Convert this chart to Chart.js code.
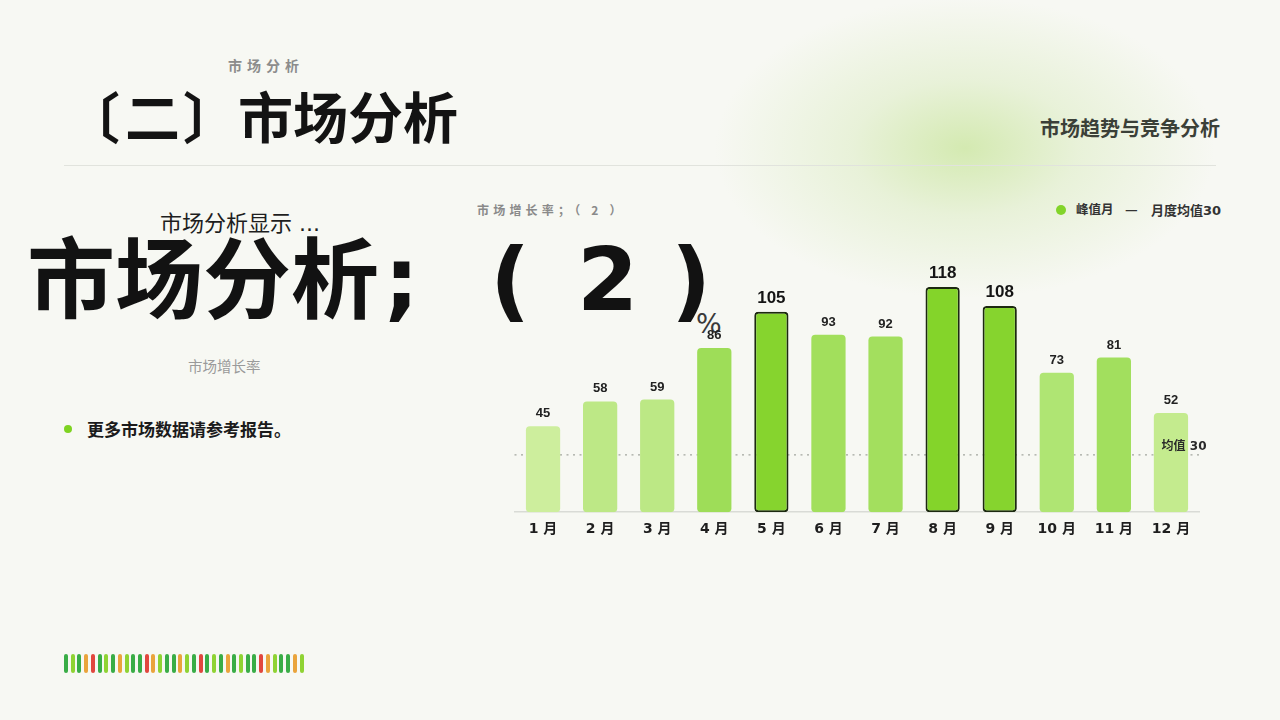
<!DOCTYPE html>
<html><head><meta charset="utf-8">
<script src="https://cdn.jsdelivr.net/npm/chart.js@4.4.0/dist/chart.umd.min.js"></script>
<style>
html,body{margin:0;padding:0;width:1280px;height:720px;overflow:hidden;background:#f7f8f3;font-family:"Noto Sans CJK SC","Noto Sans",sans-serif;}
#bg{position:absolute;left:0;top:0;width:1280px;height:720px;background:radial-gradient(ellipse 250px 150px at 965px 148px, rgba(208,232,170,0.9) 0%, rgba(220,236,195,0.55) 45%, rgba(247,248,243,0) 100%);}
.t{position:absolute;white-space:nowrap;line-height:1;}
.dj{font-family:"DejaVu Sans","Noto Sans CJK SC",sans-serif;}
#wrap{position:absolute;left:0;top:0;width:1280px;height:720px;}
#rule{position:absolute;left:64px;top:165px;width:1152px;height:1px;background:#e1e3dd;}
#strip{position:absolute;left:64px;top:654px;height:19px;}
#strip span{position:absolute;top:0;width:4px;height:19px;border-radius:2px;}
</style></head>
<body>
<div id="bg"></div>
<div id="rule"></div>
<div class="t" style="left:228px;top:58px;font-size:14px;font-weight:700;color:#8c8c8c;letter-spacing:5px;">市场分析</div>
<div class="t" style="left:73px;top:87px;font-size:55px;font-weight:700;color:#131313;"><span style="position:relative;left:-8px;">〔</span><span style="position:relative;left:-3px;">二</span>〕市场分析</div>
<div class="t" style="right:60px;top:118px;font-size:20px;font-weight:700;color:#3b4038;">市场趋势与竞争分析</div>
<div class="t dj" style="left:160px;top:210px;font-size:22px;font-weight:400;color:#1e1e1e;"><span style="font-family:'Noto Sans CJK SC'">市场分析显示</span> ...</div>
<div class="t" style="left:27px;top:229px;font-size:88px;font-weight:700;color:#121212;">市场分析</div>
<div class="t dj" style="left:384px;top:236px;font-size:88px;font-weight:700;color:#121212;">;</div>
<div class="t dj" style="left:490px;top:236px;font-size:88px;font-weight:700;color:#121212;">(</div>
<div class="t dj" style="left:577px;top:236px;font-size:88px;font-weight:700;color:#121212;">2</div>
<div class="t dj" style="left:671px;top:236px;font-size:88px;font-weight:700;color:#121212;">)</div>
<div class="t dj" style="left:696px;top:310px;font-size:27px;font-weight:400;color:#3a3a3a;">%</div>
<div class="t" style="left:188px;top:359px;font-size:14.5px;font-weight:400;color:#9a9a9a;">市场增长率</div>
<div class="t" style="left:64px;top:425px;width:8px;height:8px;border-radius:50%;background:#7ed321;"></div>
<div class="t" style="left:87px;top:420px;font-size:17px;font-weight:700;color:#1b1b1b;">更多市场数据请参考报告。</div>
<div class="t" style="left:477px;top:204px;font-size:12px;font-weight:700;color:#8a8a8a;letter-spacing:4.2px;">市场增长率；（ 2 ）</div>
<div class="t" style="left:1056px;top:205px;width:10px;height:10px;border-radius:50%;background:#82d42a;"></div>
<div class="t" style="left:1076px;top:203px;font-size:12.5px;font-weight:700;color:#333;">峰值月</div>
<div class="t" style="left:1125px;top:202px;font-size:14px;font-weight:700;color:#333;">—</div>
<div class="t dj" style="left:1151px;top:203px;font-size:13px;font-weight:700;color:#333;"><span style="font-family:'Noto Sans CJK SC'">月度均值</span>30</div>
<div id="strip"></div>
<div id="wrap"><canvas id="c"></canvas></div>
<script>
const months = ['1 月','2 月','3 月','4 月','5 月','6 月','7 月','8 月','9 月','10 月','11 月','12 月'];
const growth = [45,58,59,86,105,93,92,118,108,73,81,52];
const peakFlags = [false,false,false,false,true,false,false,true,true,false,false,false];
const barColors = ['#cdee9d','#bde886','#bce885','#9edd58','#86d42e','#a2df5c','#a3df5e','#84d42a','#86d42e','#afe573','#a2df5e','#c4eb8e'];
const meanValue = 30;
const meanLabel = '均值 30';
const stripColors = ['D','L','D','O','R','D','L','D','O','L','D','D','R','O','L','D','D','O','L','D','R','D','L','D','O','D','L','D','D','R','O','L','D','D','O','L'];

const palette = {D:'#39ad46',L:'#8fd333',O:'#eaa43c',R:'#e1473e'};
const strip = document.getElementById('strip');
stripColors.forEach((k,i)=>{const s=document.createElement('span');s.style.left=(i*6.73)+'px';s.style.background=palette[k];strip.appendChild(s);});

const valueLabels = {
  id:'valueLabels',
  afterDatasetsDraw(chart){
    const ctx=chart.ctx; const meta=chart.getDatasetMeta(0);
    ctx.save(); ctx.textAlign='center'; ctx.textBaseline='alphabetic';
    meta.data.forEach((bar,i)=>{
      const peak=peakFlags[i];
      ctx.font=(peak?'700 17px':'700 13px')+' "Liberation Sans","Arial",sans-serif';
      ctx.fillStyle=peak?'#151515':'#222';
      ctx.fillText(String(growth[i]), bar.x, bar.y-9);
    });
    const y=chart.scales.y.getPixelForValue(meanValue);
    ctx.font='700 12px "DejaVu Sans","Noto Sans CJK SC",sans-serif';
    ctx.textAlign='right'; ctx.fillStyle='#2a2a2a';
    ctx.fillText(meanLabel, chart.chartArea.right+7, y-5);
    ctx.restore();
  }
};
const meanLine = {
  id:'meanLine',
  beforeDatasetsDraw(chart){
    const ctx=chart.ctx; const a=chart.chartArea;
    const y=chart.scales.y.getPixelForValue(meanValue);
    ctx.save(); ctx.strokeStyle='#a3a59f'; ctx.lineWidth=1.4; ctx.setLineDash([2,4.5]);
    ctx.beginPath(); ctx.moveTo(a.left,y); ctx.lineTo(a.right,y); ctx.stroke(); ctx.restore();
  }
};

new Chart(document.getElementById('c'),{
  type:'bar',
  data:{labels:months,datasets:[{
    data:growth,
    backgroundColor:barColors,
    borderColor:peakFlags.map(p=>p?'#1c2910':'rgba(0,0,0,0)'),
    borderWidth:peakFlags.map(p=>p?2:0),
    borderRadius:4,
    borderSkipped:false,
    barPercentage:0.6,
    categoryPercentage:1
  }]},
  options:{
    responsive:true,maintainAspectRatio:false,animation:false,
    layout:{padding:{left:514.5,right:80.5,top:264,bottom:173}},
    plugins:{legend:{display:false},tooltip:{enabled:false}},
    scales:{
      x:{grid:{display:false,drawTicks:false},border:{display:true,color:'#d9dbd6',width:1.5},
         ticks:{padding:9,color:'#1e1e1e',font:{family:'"DejaVu Sans","Noto Sans CJK SC",sans-serif',size:14,weight:'700'}}},
      y:{display:false,min:0,max:130}
    }
  },
  plugins:[meanLine,valueLabels]
});
</script>
</body></html>
